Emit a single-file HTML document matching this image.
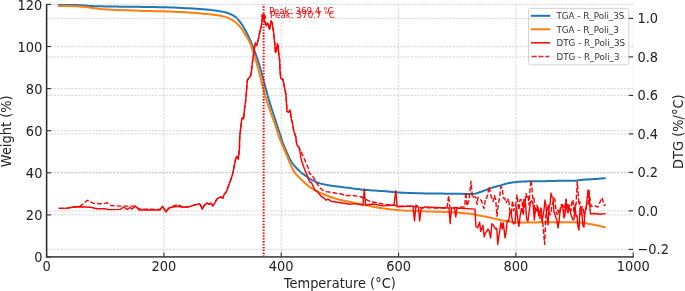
<!DOCTYPE html>
<html><head><meta charset="utf-8"><title>TGA / DTG</title>
<style>
html,body{margin:0;padding:0;background:#fff;}
body{width:685px;height:291px;overflow:hidden;}
svg{display:block;font-family:"DejaVu Sans","Liberation Sans",sans-serif;}
</style></head><body>
<svg width="685" height="291" viewBox="0 0 685 291">
<rect width="685" height="291" fill="#fff"/>
<defs><clipPath id="ax"><rect x="46.6" y="3.95" width="586.6" height="252.94999999999996"/></clipPath></defs>
<g stroke="#b0b0b0" stroke-opacity="0.4" stroke-width="1.3" stroke-dasharray="2.4 1.1" fill="none"><line x1="46.6" y1="257.00" x2="633.2" y2="257.00"/><line x1="46.6" y1="214.90" x2="633.2" y2="214.90"/><line x1="46.6" y1="172.80" x2="633.2" y2="172.80"/><line x1="46.6" y1="130.70" x2="633.2" y2="130.70"/><line x1="46.6" y1="88.60" x2="633.2" y2="88.60"/><line x1="46.6" y1="46.50" x2="633.2" y2="46.50"/><line x1="46.6" y1="4.40" x2="633.2" y2="4.40"/><line x1="46.60" y1="4.4" x2="46.60" y2="256.9"/><line x1="163.92" y1="4.4" x2="163.92" y2="256.9"/><line x1="281.24" y1="4.4" x2="281.24" y2="256.9"/><line x1="398.56" y1="4.4" x2="398.56" y2="256.9"/><line x1="515.88" y1="4.4" x2="515.88" y2="256.9"/><line x1="632.90" y1="4.4" x2="632.90" y2="256.9" stroke-opacity="0.2" stroke-width="0.8"/></g>
<polyline clip-path="url(#ax)" points="58.00,4.70 59.34,4.71 61.21,4.71 63.42,4.72 65.76,4.74 68.02,4.76 70.00,4.80 71.67,4.84 73.18,4.90 74.62,4.96 76.05,5.03 77.55,5.11 79.20,5.20 81.04,5.32 83.01,5.46 85.06,5.61 87.10,5.76 89.07,5.89 90.90,6.00 92.56,6.08 94.09,6.14 95.56,6.19 97.00,6.23 98.46,6.26 100.00,6.30 101.27,6.34 102.16,6.36 103.07,6.39 104.41,6.41 106.59,6.45 110.00,6.50 115.11,6.56 121.70,6.64 129.11,6.72 136.73,6.81 143.90,6.91 150.00,7.00 154.97,7.09 159.32,7.17 163.23,7.26 166.89,7.35 170.48,7.46 174.20,7.60 178.02,7.76 181.78,7.94 185.48,8.13 189.11,8.34 192.65,8.56 196.10,8.80 199.51,9.05 202.89,9.31 206.18,9.58 209.34,9.87 212.30,10.18 215.00,10.50 217.41,10.83 219.57,11.15 221.54,11.49 223.36,11.87 225.09,12.30 226.80,12.80 228.46,13.36 230.03,13.96 231.52,14.62 232.92,15.34 234.25,16.13 235.50,17.00 236.67,17.99 237.76,19.10 238.77,20.29 239.71,21.50 240.58,22.68 241.40,23.80 242.12,24.81 242.74,25.76 243.29,26.68 243.82,27.62 244.37,28.65 245.00,29.80 245.69,31.06 246.41,32.39 247.16,33.80 247.92,35.30 248.70,36.89 249.50,38.60 250.33,40.46 251.19,42.47 252.07,44.57 252.94,46.73 253.80,48.89 254.60,51.00 255.36,53.05 256.08,55.09 256.77,57.12 257.46,59.18 258.13,61.26 258.80,63.40 259.46,65.55 260.09,67.68 260.71,69.85 261.34,72.10 262.00,74.46 262.70,77.00 263.45,79.78 264.24,82.79 265.06,85.91 265.88,89.06 266.70,92.12 267.50,95.00 268.28,97.70 269.07,100.32 269.84,102.85 270.61,105.30 271.36,107.69 272.10,110.00 272.81,112.19 273.49,114.25 274.15,116.24 274.81,118.21 275.49,120.25 276.20,122.40 276.96,124.77 277.77,127.32 278.60,129.93 279.40,132.46 280.15,134.79 280.80,136.80 281.31,138.36 281.69,139.56 282.02,140.55 282.35,141.51 282.76,142.61 283.30,144.00 284.01,145.77 284.83,147.79 285.72,149.95 286.64,152.12 287.55,154.18 288.40,156.00 289.17,157.57 289.88,158.98 290.58,160.28 291.31,161.51 292.10,162.74 293.00,164.00 294.05,165.33 295.21,166.70 296.45,168.05 297.70,169.35 298.90,170.55 300.00,171.60 301.00,172.48 301.95,173.22 302.85,173.86 303.72,174.44 304.56,175.01 305.40,175.60 306.21,176.21 306.98,176.81 307.72,177.40 308.47,177.96 309.22,178.50 310.00,179.00 310.81,179.46 311.64,179.89 312.48,180.29 313.32,180.67 314.16,181.03 315.00,181.40 315.78,181.76 316.48,182.09 317.19,182.42 317.96,182.74 318.88,183.07 320.00,183.40 321.38,183.75 322.96,184.12 324.69,184.49 326.48,184.86 328.28,185.20 330.00,185.50 331.67,185.76 333.33,185.99 335.00,186.20 336.67,186.40 338.33,186.59 340.00,186.80 341.61,187.01 343.15,187.21 344.69,187.42 346.30,187.63 348.04,187.85 350.00,188.10 352.21,188.38 354.63,188.69 357.19,189.02 359.81,189.34 362.44,189.64 365.00,189.90 367.50,190.11 370.00,190.28 372.50,190.43 375.00,190.57 377.50,190.73 380.00,190.90 382.60,191.11 385.31,191.34 388.02,191.58 390.61,191.81 392.98,192.03 395.00,192.20 396.40,192.33 397.23,192.42 397.83,192.49 398.54,192.55 399.72,192.61 401.70,192.70 404.69,192.81 408.46,192.94 412.69,193.07 417.06,193.20 421.27,193.31 425.00,193.40 428.17,193.46 431.02,193.50 433.71,193.52 436.38,193.54 439.19,193.57 442.30,193.60 445.89,193.65 449.89,193.70 454.03,193.76 458.04,193.82 461.69,193.87 464.70,193.90 466.96,193.95 468.66,194.02 469.99,194.09 471.13,194.11 472.27,194.06 473.60,193.90 475.10,193.61 476.60,193.22 478.10,192.76 479.60,192.24 481.10,191.72 482.60,191.20 484.09,190.67 485.59,190.11 487.08,189.52 488.57,188.95 490.04,188.40 491.50,187.90 492.95,187.46 494.38,187.06 495.81,186.69 497.22,186.33 498.62,185.97 500.00,185.60 501.35,185.21 502.67,184.80 503.98,184.39 505.29,183.99 506.63,183.63 508.00,183.30 509.39,183.02 510.77,182.77 512.17,182.55 513.62,182.35 515.16,182.17 516.80,182.00 518.55,181.84 520.38,181.70 522.29,181.58 524.28,181.47 526.35,181.38 528.50,181.30 530.74,181.25 533.07,181.23 535.48,181.23 537.96,181.23 540.50,181.23 543.10,181.20 545.81,181.15 548.64,181.07 551.54,180.99 554.44,180.91 557.28,180.85 560.00,180.80 562.68,180.79 565.38,180.80 568.02,180.83 570.51,180.85 572.77,180.85 574.70,180.80 576.12,180.70 577.05,180.57 577.75,180.41 578.46,180.24 579.43,180.07 580.90,179.90 583.02,179.74 585.61,179.56 588.46,179.39 591.35,179.21 594.07,179.05 596.40,178.90 598.42,178.76 600.30,178.62 602.02,178.49 603.52,178.37 604.76,178.27 605.70,178.20" fill="none" stroke="#1f77b4" stroke-width="2" stroke-linejoin="round"/>
<polyline clip-path="url(#ax)" points="58.00,5.90 59.29,5.92 61.05,5.93 63.15,5.96 65.44,5.99 67.77,6.04 70.00,6.10 72.21,6.18 74.54,6.27 76.91,6.37 79.26,6.50 81.51,6.64 83.60,6.80 85.54,7.00 87.40,7.24 89.16,7.50 90.82,7.76 92.37,8.00 93.80,8.20 95.04,8.36 96.08,8.49 97.01,8.59 97.92,8.69 98.89,8.79 100.00,8.90 101.10,9.01 102.08,9.13 103.13,9.24 104.41,9.35 106.11,9.47 108.40,9.60 111.49,9.74 115.28,9.90 119.49,10.06 123.83,10.21 128.03,10.37 131.80,10.50 135.07,10.62 138.04,10.72 140.86,10.82 143.70,10.91 146.69,11.00 150.00,11.10 153.69,11.19 157.64,11.27 161.76,11.35 165.93,11.44 170.05,11.55 174.00,11.70 177.82,11.88 181.59,12.09 185.31,12.32 188.96,12.57 192.53,12.83 196.00,13.10 199.42,13.37 202.82,13.64 206.14,13.93 209.31,14.23 212.28,14.55 215.00,14.90 217.42,15.25 219.58,15.60 221.54,15.96 223.36,16.37 225.10,16.84 226.80,17.40 228.46,18.05 230.03,18.77 231.52,19.56 232.92,20.40 234.25,21.29 235.50,22.20 236.67,23.17 237.76,24.21 238.77,25.29 239.71,26.39 240.58,27.47 241.40,28.50 242.12,29.46 242.74,30.38 243.29,31.27 243.82,32.19 244.37,33.15 245.00,34.20 245.71,35.34 246.49,36.54 247.28,37.79 248.07,39.07 248.82,40.38 249.50,41.70 250.09,42.98 250.60,44.22 251.08,45.48 251.54,46.83 252.04,48.31 252.60,50.00 253.23,51.92 253.90,54.04 254.60,56.31 255.31,58.66 256.02,61.04 256.70,63.40 257.36,65.74 258.00,68.09 258.63,70.48 259.27,72.91 259.92,75.41 260.60,78.00 261.29,80.69 261.99,83.49 262.69,86.35 263.43,89.24 264.19,92.14 265.00,95.00 265.88,97.88 266.81,100.81 267.79,103.75 268.76,106.63 269.71,109.40 270.60,112.00 271.42,114.37 272.19,116.55 272.93,118.61 273.67,120.65 274.42,122.75 275.20,125.00 276.01,127.42 276.82,129.94 277.65,132.52 278.50,135.12 279.38,137.69 280.30,140.20 281.30,142.69 282.37,145.19 283.47,147.67 284.56,150.09 285.58,152.38 286.50,154.50 287.29,156.44 287.98,158.21 288.61,159.87 289.21,161.45 289.83,162.98 290.50,164.50 291.22,166.02 291.94,167.50 292.69,168.94 293.44,170.32 294.22,171.61 295.00,172.80 295.80,173.86 296.63,174.80 297.47,175.66 298.31,176.47 299.16,177.27 300.00,178.10 300.83,178.95 301.67,179.78 302.50,180.61 303.33,181.42 304.17,182.22 305.00,183.00 305.83,183.78 306.67,184.56 307.50,185.32 308.33,186.06 309.17,186.76 310.00,187.40 310.83,187.97 311.67,188.49 312.50,188.97 313.33,189.42 314.17,189.86 315.00,190.30 315.83,190.75 316.67,191.18 317.50,191.61 318.33,192.02 319.17,192.42 320.00,192.80 320.83,193.16 321.67,193.51 322.50,193.84 323.33,194.16 324.17,194.48 325.00,194.80 325.83,195.12 326.67,195.45 327.50,195.77 328.33,196.09 329.17,196.40 330.00,196.70 330.81,196.99 331.59,197.27 332.38,197.55 333.19,197.83 334.05,198.11 335.00,198.40 336.04,198.71 337.15,199.03 338.31,199.36 339.52,199.68 340.75,200.00 342.00,200.30 343.19,200.57 344.33,200.80 345.50,201.02 346.78,201.26 348.25,201.54 350.00,201.90 352.09,202.35 354.48,202.86 357.06,203.42 359.74,204.00 362.42,204.57 365.00,205.10 367.44,205.59 369.81,206.08 372.19,206.55 374.63,207.01 377.21,207.46 380.00,207.90 383.04,208.34 386.30,208.79 389.69,209.22 393.15,209.63 396.61,209.99 400.00,210.30 403.33,210.54 406.67,210.72 410.00,210.86 413.33,210.98 416.67,211.08 420.00,211.20 423.33,211.31 426.67,211.41 430.00,211.49 433.33,211.58 436.67,211.68 440.00,211.80 443.43,211.94 446.96,212.10 450.50,212.26 453.93,212.44 457.13,212.62 460.00,212.80 462.53,212.99 464.81,213.18 466.88,213.38 468.74,213.59 470.44,213.79 472.00,214.00 473.28,214.20 474.22,214.39 475.00,214.58 475.78,214.79 476.72,215.02 478.00,215.30 479.68,215.63 481.63,215.99 483.75,216.39 485.93,216.80 488.05,217.21 490.00,217.60 491.78,217.99 493.48,218.38 495.12,218.78 496.74,219.16 498.36,219.54 500.00,219.90 501.67,220.25 503.33,220.61 505.00,220.95 506.67,221.27 508.33,221.56 510.00,221.80 511.52,222.00 512.85,222.16 514.18,222.28 515.70,222.38 517.58,222.45 520.00,222.50 523.16,222.52 526.96,222.50 531.12,222.45 535.37,222.39 539.46,222.34 543.10,222.30 546.24,222.27 549.08,222.24 551.74,222.21 554.37,222.19 557.08,222.19 560.00,222.20 563.21,222.21 566.62,222.22 570.12,222.24 573.59,222.30 576.92,222.41 580.00,222.60 582.84,222.88 585.53,223.25 588.08,223.68 590.50,224.13 592.81,224.58 595.00,225.00 597.16,225.43 599.28,225.89 601.29,226.35 603.09,226.78 604.59,227.14 605.70,227.40" fill="none" stroke="#ff7f0e" stroke-width="2" stroke-linejoin="round"/>
<rect x="528.5" y="8.4" width="100.29999999999995" height="56.4" rx="2" ry="2" fill="#fff" fill-opacity="0.8" stroke="#d4d4d4" stroke-width="1"/>
<line x1="531.8" y1="15.8" x2="549.3" y2="15.8" stroke="#1f77b4" stroke-width="2" stroke-linecap="square"/>
<text x="556.4" y="19.1" font-size="8.75" fill="#333">TGA - R_Poli_3S</text>
<line x1="531.8" y1="29.3" x2="549.3" y2="29.3" stroke="#ff7f0e" stroke-width="2" stroke-linecap="square"/>
<text x="556.4" y="32.6" font-size="8.75" fill="#333">TGA - R_Poli_3</text>
<line x1="531.8" y1="42.8" x2="549.3" y2="42.8" stroke="#ff0000" stroke-width="1.5" stroke-linecap="square"/>
<text x="556.4" y="46.1" font-size="8.75" fill="#333">DTG - R_Poli_3S</text>
<line x1="531.8" y1="56.5" x2="549.3" y2="56.5" stroke="#ff0000" stroke-width="1.5" stroke-dasharray="4.8 2.08"/>
<text x="556.4" y="59.8" font-size="8.75" fill="#333">DTG - R_Poli_3</text>
<g stroke="#b0b0b0" stroke-opacity="0.4" stroke-width="1.3" stroke-dasharray="2.4 1.1" fill="none"><line x1="46.6" y1="249.40" x2="633.2" y2="249.40"/><line x1="46.6" y1="210.90" x2="633.2" y2="210.90"/><line x1="46.6" y1="172.40" x2="633.2" y2="172.40"/><line x1="46.6" y1="133.90" x2="633.2" y2="133.90"/><line x1="46.6" y1="95.40" x2="633.2" y2="95.40"/><line x1="46.6" y1="56.90" x2="633.2" y2="56.90"/><line x1="46.6" y1="18.40" x2="633.2" y2="18.40"/></g>
<polyline points="58.80,208.40 67.50,208.10 73.40,207.00 79.20,206.70 83.00,204.00 87.40,200.30 93.20,203.20 100.20,203.80 107.20,202.90 110.70,205.50 120.00,206.10 127.00,206.10 135.50,206.10 139.00,209.00 160.00,209.50 162.40,206.40 165.90,211.00 169.40,207.80 177.60,204.30 183.40,207.30 189.20,206.70 198.60,203.80 200.20,204.40 202.20,208.50 204.30,205.50 207.00,203.00 209.00,204.40 211.10,203.00 212.60,205.90 214.60,203.40 216.70,199.30 218.80,197.80 220.80,196.80 222.90,198.20 224.30,194.10 226.00,192.60 228.10,186.90 230.10,181.70 232.20,175.50 233.80,168.30 235.00,162.00 236.00,157.50 237.20,156.30 238.30,159.00 239.40,149.30 239.70,137.10 240.80,127.80 241.80,118.60 242.80,117.50 243.60,119.00 244.40,110.00 245.40,103.00 246.20,95.00 246.80,87.00 247.30,80.60 248.30,78.60 250.40,76.50 251.40,71.30 252.50,62.00 253.90,52.00 254.60,46.50 255.40,43.00 256.40,45.50 257.00,44.00 258.20,40.00 259.40,34.00 260.20,30.00 261.00,28.00 261.60,24.50 262.20,19.70 263.40,18.70 264.80,21.10 266.30,25.90 267.70,23.90 269.50,30.00 271.10,21.60 272.00,23.20 273.40,31.50 274.20,38.70 275.00,46.00 275.50,52.50 276.50,50.60 277.30,44.00 278.10,46.50 278.80,54.00 279.60,60.00 280.00,70.00 280.80,78.30 282.90,79.30 286.00,94.80 287.00,111.30 288.60,112.00 290.10,110.30 291.60,120.30 292.20,121.70 293.70,130.60 295.80,136.80 296.80,145.00 298.90,147.10 300.90,151.20 304.80,160.00 306.50,164.00 308.10,167.50 309.10,172.00 309.90,174.00 311.30,174.50 312.40,176.00 314.40,179.00 316.20,182.00 319.00,186.60 322.50,190.20 326.60,191.60 335.00,193.00 341.50,194.00 345.00,195.50 352.60,195.50 360.10,196.50 363.90,198.40 369.60,201.20 382.80,204.00 390.40,205.00 400.00,206.00 413.00,206.50 420.00,207.50 435.00,208.00 447.00,208.00 448.60,195.70 450.00,208.00 464.70,206.90 465.80,192.30 467.00,206.00 469.00,200.00 471.00,181.20 472.50,197.90 473.80,196.64 475.10,196.90 476.08,198.18 477.05,204.34 478.02,197.33 479.00,198.20 480.30,199.58 481.60,200.70 482.90,206.00 484.20,208.50 485.45,198.30 486.70,198.20 488.00,192.59 489.30,186.60 490.60,194.48 491.90,198.20 493.15,201.59 494.40,195.60 495.70,199.41 497.00,216.20 498.30,204.05 499.60,198.20 500.90,186.50 502.20,187.90 503.45,198.00 504.70,198.20 506.00,202.55 507.30,200.70 508.60,198.52 509.90,211.00 511.20,213.57 512.50,200.70 513.75,210.79 515.00,206.00 516.00,202.96 517.00,195.00 518.00,204.35 519.00,210.00 520.00,199.52 521.00,200.00 522.00,199.74 523.00,215.00 524.00,209.45 525.00,203.00 526.00,193.45 527.00,198.00 528.00,196.54 529.00,205.00 530.10,188.42 531.20,180.10 533.00,200.00 534.00,198.48 535.00,212.00 536.00,207.92 537.00,205.00 538.00,210.55 539.00,218.00 540.00,217.98 541.00,207.00 542.00,216.31 543.00,225.00 544.60,244.40 546.00,212.00 547.00,210.74 548.00,205.00 549.00,210.00 550.00,215.00 551.00,212.60 552.00,205.00 553.00,202.65 554.00,198.12 555.00,200.00 556.00,211.30 557.00,214.60 558.00,210.00 559.00,213.78 560.00,209.99 561.00,205.00 562.00,204.38 563.00,205.34 564.00,212.00 565.00,205.62 566.00,199.12 567.00,203.00 568.00,208.93 569.00,204.74 570.00,208.00 571.00,210.88 572.00,200.85 573.00,200.00 574.00,213.33 575.00,212.00 576.15,202.41 577.30,181.70 579.00,205.00 580.00,202.01 581.00,215.00 582.00,206.36 583.00,207.00 584.00,216.06 585.00,212.00 586.00,208.02 587.00,205.00 588.00,205.39 589.00,190.40 591.00,206.50 595.00,206.00 598.00,207.00 600.00,202.00 602.00,197.70 604.00,205.00 605.70,205.20" fill="none" stroke="#ff0000" stroke-width="1.4" stroke-dasharray="4.8 2.08" stroke-linejoin="round"/>
<polyline points="58.80,208.40 67.50,208.10 73.40,207.00 79.20,206.70 85.00,207.00 90.90,207.30 96.70,208.80 104.90,208.80 108.40,209.60 120.00,209.40 124.00,207.00 127.00,209.50 130.00,207.50 132.00,209.00 135.50,206.10 139.00,210.00 160.00,210.00 162.40,206.40 165.90,212.00 169.40,207.80 173.00,207.00 177.60,206.30 183.40,207.30 189.20,206.70 198.60,203.80 200.20,204.40 202.20,209.20 204.30,205.50 207.00,203.00 209.00,204.40 211.10,203.00 212.60,205.90 214.60,203.40 216.70,199.30 218.80,197.80 220.80,196.80 222.90,198.20 224.30,194.10 226.00,192.60 228.10,186.90 230.10,181.70 232.20,175.50 233.80,168.30 235.00,162.00 236.00,157.50 237.20,156.30 238.30,159.00 239.40,149.30 239.70,137.10 240.80,127.80 241.80,118.60 242.80,117.50 243.60,119.00 244.40,110.00 245.40,103.00 246.20,95.00 246.80,87.00 247.30,80.60 248.30,78.60 250.40,76.50 251.40,71.30 252.50,62.00 253.90,52.00 254.60,46.50 255.40,43.00 256.40,45.50 257.00,44.00 258.20,40.00 259.40,34.00 260.20,30.00 261.00,28.00 261.60,24.50 262.20,18.70 262.60,15.70 264.20,20.10 266.30,24.90 267.70,22.90 269.50,29.00 271.10,20.60 272.00,22.20 273.40,30.50 274.20,38.20 275.00,46.00 275.50,52.50 276.50,50.60 277.30,43.60 278.10,46.00 278.80,53.70 279.60,60.00 280.00,70.00 280.80,78.30 282.90,79.30 286.00,94.80 287.00,111.30 288.60,112.00 290.10,110.30 291.60,120.30 292.20,121.70 293.70,130.60 295.80,136.80 296.80,145.00 298.90,147.10 299.90,151.20 301.30,160.00 302.70,164.00 304.90,170.00 307.00,175.00 308.90,180.00 309.80,182.00 311.60,182.70 314.70,189.90 317.80,192.00 320.90,196.10 324.00,198.10 326.10,200.20 328.10,199.20 331.20,201.20 337.40,202.30 343.60,203.30 350.00,204.30 354.50,203.60 363.00,205.00 364.30,188.90 365.50,205.00 373.40,204.00 382.80,205.90 394.10,205.00 395.70,190.80 397.20,206.90 407.40,206.30 413.00,205.90 414.50,221.00 416.00,205.00 418.50,207.00 419.70,221.00 421.00,209.20 424.50,206.90 435.00,207.50 449.00,208.00 450.20,223.60 451.50,208.00 454.60,208.00 455.80,216.90 456.90,208.00 475.00,209.10 475.90,226.50 477.70,227.80 478.68,224.93 479.65,222.12 480.62,231.42 481.60,229.00 482.90,225.20 484.20,236.80 485.40,232.90 486.70,231.60 488.00,229.00 489.30,231.08 490.60,238.00 491.90,223.64 493.20,225.20 494.45,227.23 495.70,229.00 496.75,228.42 497.80,244.50 498.70,236.86 499.60,231.60 500.90,222.56 502.20,229.00 503.15,222.61 504.10,229.59 505.05,237.81 506.00,232.90 507.30,220.33 508.60,221.30 509.90,212.47 511.20,213.60 512.45,221.04 513.70,223.90 515.00,222.96 516.30,205.90 517.60,217.59 518.90,226.50 520.20,215.64 521.50,208.50 522.75,212.52 524.00,199.40 525.30,200.89 526.60,218.70 527.90,221.30 529.20,211.00 530.50,202.06 531.80,200.70 533.05,203.95 534.30,220.00 535.60,208.62 536.90,211.00 537.93,207.22 538.97,216.02 540.00,210.00 541.00,210.25 542.00,222.00 543.00,216.14 544.00,209.83 545.00,200.00 546.00,206.04 547.00,217.53 548.00,225.00 549.00,207.13 550.00,205.00 551.00,193.07 552.00,197.00 553.00,197.71 554.00,212.25 555.00,215.00 556.00,218.03 557.00,220.32 558.00,228.00 559.00,221.54 560.00,212.00 561.00,207.66 562.00,205.00 563.00,207.90 564.00,218.00 565.00,214.30 566.00,200.00 567.00,210.08 568.00,213.00 569.00,206.89 570.00,210.00 571.00,214.67 572.00,217.12 573.00,220.00 574.00,219.25 575.00,205.00 576.00,216.43 577.00,215.78 578.00,226.90 579.00,229.91 580.00,208.76 581.00,210.00 582.00,214.19 583.00,225.96 584.00,227.00 585.00,211.74 586.00,208.80 587.00,200.00 588.00,190.00 589.00,195.00 590.40,213.80 595.00,213.50 600.00,214.20 605.70,213.60" fill="none" stroke="#ff0000" stroke-width="1.4" stroke-linejoin="round"/>
<g stroke="#ff0000" stroke-width="1.3" stroke-dasharray="1.3 1.598"><line x1="263.29" y1="256.9" x2="263.29" y2="4.4"/><line x1="264.05" y1="256.9" x2="264.05" y2="4.4"/></g>
<circle cx="263.39" cy="15.9" r="2.25" fill="#ff0000"/>
<circle cx="264.05" cy="17.6" r="2.0" fill="#ff0000"/>
<text transform="translate(268.9,14.0) scale(1,1.07)" font-size="8.75" fill="#ff0000">Peak: 369.4 °C</text>
<text transform="translate(270.1,17.8) scale(1,1.07)" font-size="8.75" fill="#ff0000">Peak: 370.7 °C</text>
<line x1="46.6" y1="4.1000000000000005" x2="46.6" y2="257.7" stroke="#262626" stroke-width="1.5"/>
<line x1="45.9" y1="256.9" x2="633.8000000000001" y2="256.9" stroke="#555" stroke-width="1.6"/>
<g stroke="#333" stroke-width="1.1"><line x1="46.6" y1="257.00" x2="51.1" y2="257.00"/><line x1="46.6" y1="214.90" x2="51.1" y2="214.90"/><line x1="46.6" y1="172.80" x2="51.1" y2="172.80"/><line x1="46.6" y1="130.70" x2="51.1" y2="130.70"/><line x1="46.6" y1="88.60" x2="51.1" y2="88.60"/><line x1="46.6" y1="46.50" x2="51.1" y2="46.50"/><line x1="46.6" y1="4.40" x2="51.1" y2="4.40"/><line x1="46.60" y1="256.9" x2="46.60" y2="252.39999999999998"/><line x1="163.92" y1="256.9" x2="163.92" y2="252.39999999999998"/><line x1="281.24" y1="256.9" x2="281.24" y2="252.39999999999998"/><line x1="398.56" y1="256.9" x2="398.56" y2="252.39999999999998"/><line x1="515.88" y1="256.9" x2="515.88" y2="252.39999999999998"/><line x1="633.20" y1="256.9" x2="633.20" y2="252.39999999999998"/><line x1="628.7" y1="249.40" x2="633.2" y2="249.40"/><line x1="628.7" y1="210.90" x2="633.2" y2="210.90"/><line x1="628.7" y1="172.40" x2="633.2" y2="172.40"/><line x1="628.7" y1="133.90" x2="633.2" y2="133.90"/><line x1="628.7" y1="95.40" x2="633.2" y2="95.40"/><line x1="628.7" y1="56.90" x2="633.2" y2="56.90"/><line x1="628.7" y1="18.40" x2="633.2" y2="18.40"/></g>
<g font-size="13" fill="#222"><text transform="translate(42.4,257.10) scale(1,1.08)" y="4.74" text-anchor="end">0</text><text transform="translate(42.4,215.00) scale(1,1.08)" y="4.74" text-anchor="end">20</text><text transform="translate(42.4,172.90) scale(1,1.08)" y="4.74" text-anchor="end">40</text><text transform="translate(42.4,130.80) scale(1,1.08)" y="4.74" text-anchor="end">60</text><text transform="translate(42.4,88.70) scale(1,1.08)" y="4.74" text-anchor="end">80</text><text transform="translate(42.4,46.60) scale(1,1.08)" y="4.74" text-anchor="end">100</text><text transform="translate(42.4,4.50) scale(1,1.08)" y="4.74" text-anchor="end">120</text><text transform="translate(46.60,265.8) scale(1,1.08)" y="4.74" text-anchor="middle">0</text><text transform="translate(163.92,265.8) scale(1,1.08)" y="4.74" text-anchor="middle">200</text><text transform="translate(281.24,265.8) scale(1,1.08)" y="4.74" text-anchor="middle">400</text><text transform="translate(398.56,265.8) scale(1,1.08)" y="4.74" text-anchor="middle">600</text><text transform="translate(515.88,265.8) scale(1,1.08)" y="4.74" text-anchor="middle">800</text><text transform="translate(633.20,265.8) scale(1,1.08)" y="4.74" text-anchor="middle">1000</text><text transform="translate(637.4,248.90) scale(1,1.08)" y="4.74">−0.2</text><text transform="translate(637.4,210.40) scale(1,1.08)" y="4.74">0.0</text><text transform="translate(637.4,171.90) scale(1,1.08)" y="4.74">0.2</text><text transform="translate(637.4,133.40) scale(1,1.08)" y="4.74">0.4</text><text transform="translate(637.4,94.90) scale(1,1.08)" y="4.74">0.6</text><text transform="translate(637.4,56.40) scale(1,1.08)" y="4.74">0.8</text><text transform="translate(637.4,17.90) scale(1,1.08)" y="4.74">1.0</text></g>
<text transform="translate(339.8,288.0) scale(1,1.065)" font-size="13" text-anchor="middle" fill="#262626">Temperature (°C)</text>
<text transform="translate(10.5,131.3) rotate(-90) scale(1,1.065)" font-size="13" text-anchor="middle" fill="#262626">Weight (%)</text>
<text transform="translate(682.6,131.7) rotate(-90) scale(1,1.065)" font-size="13" text-anchor="middle" fill="#262626">DTG (%/°C)</text>
</svg>
</body></html>
